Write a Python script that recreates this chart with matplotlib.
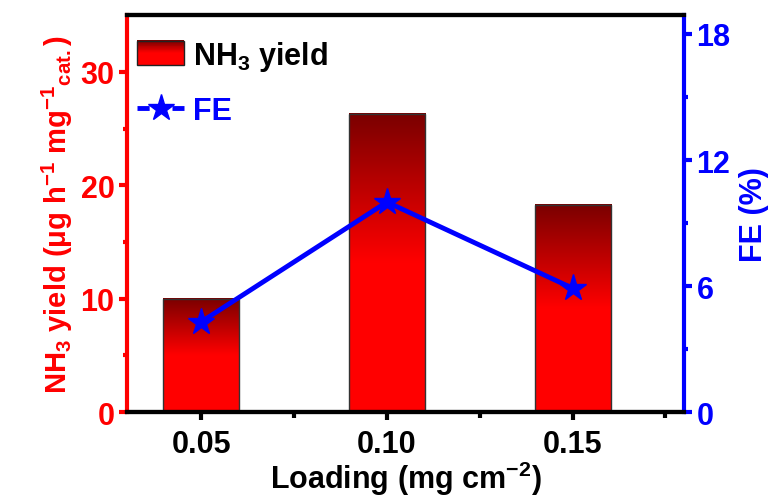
import numpy as np
import matplotlib.pyplot as plt
from matplotlib.patches import Rectangle, Patch
from matplotlib.lines import Line2D
from matplotlib.legend_handler import HandlerBase
from matplotlib.colors import LinearSegmentedColormap

plt.rcParams['font.family'] = 'Liberation Sans'
plt.rcParams['font.weight'] = 'bold'
plt.rcParams['axes.labelweight'] = 'bold'
plt.rcParams['mathtext.fontset'] = 'custom'
plt.rcParams['mathtext.rm'] = 'Liberation Sans:bold'
plt.rcParams['mathtext.it'] = 'Liberation Sans:bold'
plt.rcParams['mathtext.bf'] = 'Liberation Sans:bold'
plt.rcParams['mathtext.default'] = 'rm'

# data
loading = [0.05, 0.10, 0.15]
nh3_yield = [10.0, 26.3, 18.3]
fe = [4.3, 10.0, 5.9]
xtick_labels = ['0.05', '0.10', '0.15']

RED = '#ff0000'
BLUE = '#0000ff'
bar_cmap = LinearSegmentedColormap.from_list('bar', ['#ff0000', '#ff0000', '#7a0000'])


class GradientHandler(HandlerBase):
    # legend patch drawn as a stack of thin rectangles (fake gradient)
    def create_artists(self, legend, orig_handle, xdescent, ydescent,
                       width, height, fontsize, trans):
        arts = []
        n = 30
        h = height * 1.15
        y0 = -ydescent - (h - height) / 2
        for i in range(n):
            r = Rectangle((-xdescent, y0 + h * i / n), width, h / n + 0.2,
                          facecolor=bar_cmap(i / (n - 1)), edgecolor='none', transform=trans)
            arts.append(r)
        frame = Rectangle((-xdescent, y0), width, h, facecolor='none',
                          edgecolor='#222222', lw=1, transform=trans)
        arts.append(frame)
        return arts


fig = plt.figure(figsize=(7.79, 5.02), dpi=100)
ax = fig.add_axes([0.163, 0.177, 0.715, 0.791])
ax2 = ax.twinx()

bw = 0.0205
grad = np.linspace(0, 1, 256).reshape(-1, 1)
for x, h in zip(loading, nh3_yield):
    ax.imshow(grad, extent=[x - bw / 2, x + bw / 2, 0, h], origin='lower',
              cmap=bar_cmap, aspect='auto', zorder=2)
    ax.add_patch(Rectangle((x - bw / 2, 0), bw, h, facecolor='none',
                           edgecolor='#333333', lw=1, zorder=3))

ax.set_xlim(0.03, 0.18)
ax.set_ylim(0, 35)
ax2.set_ylim(0, 18.9)

ax2.plot(loading, fe, color=BLUE, lw=3.5, marker='*', ms=20, zorder=4)

ax.set_xticks(loading)
ax.set_xticklabels(xtick_labels)
ax.set_xticks([0.075, 0.125, 0.175], minor=True)
ax.set_yticks([0, 10, 20, 30])
ax.set_yticks([5, 15, 25], minor=True)
ax2.set_yticks([0, 6, 12, 18])
ax2.set_yticks([3, 9, 15], minor=True)

for a in (ax, ax2):
    for s in a.spines.values():
        s.set_linewidth(3)
ax.spines['left'].set_color(RED)
ax2.spines['left'].set_visible(False)
ax2.spines['right'].set_color(BLUE)
ax.spines['right'].set_visible(False)

ax.tick_params(axis='x', which='major', length=6, width=3, labelsize=22, pad=6)
ax.tick_params(axis='x', which='minor', length=4, width=3)
ax.tick_params(axis='y', which='major', length=6, width=3, colors=RED, labelsize=22, pad=3)
ax.tick_params(axis='y', which='minor', length=3, width=3, colors=RED)
ax2.tick_params(axis='y', which='major', length=6, width=3, colors=BLUE, labelsize=22, pad=3)
ax2.tick_params(axis='y', which='minor', length=3, width=3, colors=BLUE)

ax.set_xlabel('Loading (mg cm$^{-2}$)', fontsize=22, labelpad=0)
ax.set_ylabel(r'NH$_3$ yield ($\mu$g h$^{-1}$ mg$^{-1}$$_{cat.}$)', fontsize=21,
              color=RED, labelpad=4)
ax2.set_ylabel('FE (%)', fontsize=22, color=BLUE, labelpad=6)

h1 = Patch(label='NH$_3$ yield')
h2 = Line2D([], [], color=BLUE, lw=3.5, marker='*', ms=20, ls=(0, (2.5, 4.7)), label='FE')
leg = ax.legend([h1, h2], ['NH$_3$ yield', 'FE'], handler_map={Patch: GradientHandler()},
                loc='upper left', bbox_to_anchor=(0.004, 0.96), frameon=False,
                fontsize=22, handlelength=1.55, handletextpad=0.3, borderaxespad=0,
                labelspacing=0.75, borderpad=0.25)
leg.get_texts()[1].set_color(BLUE)
leg.set_zorder(10)

fig.savefig('out.png', dpi=100)
